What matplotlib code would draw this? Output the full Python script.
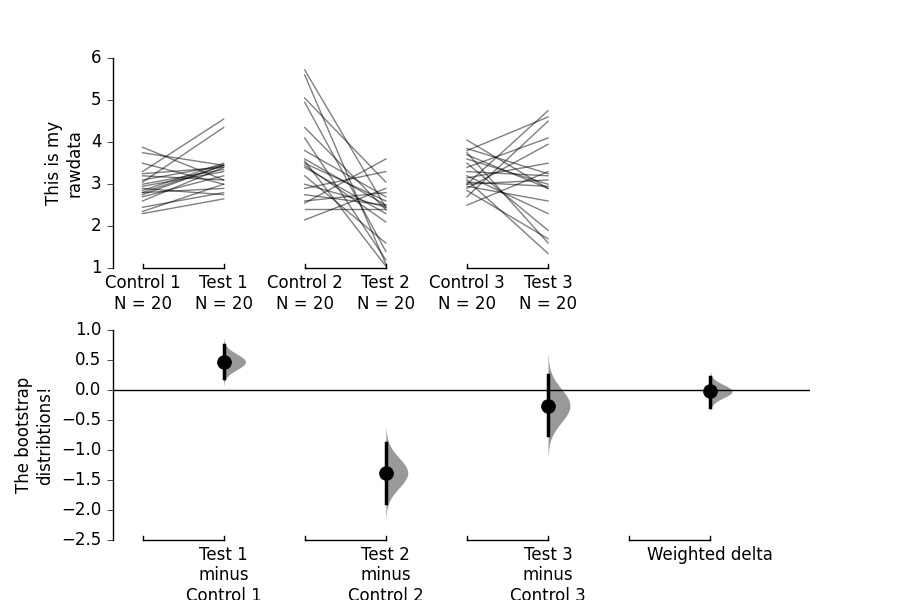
import numpy as np
import matplotlib.pyplot as plt

control1 = [2.3, 2.35, 2.45, 2.6, 2.7, 2.75, 2.8, 2.8, 2.85, 2.9, 2.95, 3.0, 3.05, 3.1, 3.2, 3.25, 3.3, 3.5, 3.75, 3.88]
test1 = [2.65, 3.0, 2.8, 3.4, 3.2, 3.45, 3.45, 2.9, 3.5, 2.75, 3.3, 3.35, 4.35, 3.45, 3.1, 3.4, 4.55, 3.0, 3.45, 3.1]
control2 = [2.15, 2.4, 2.55, 2.6, 2.75, 2.9, 3.0, 3.2, 3.4, 3.45, 3.5, 3.55, 3.6, 3.8, 4.1, 4.35, 4.95, 5.05, 5.6, 5.72]
test2 = [2.9, 2.4, 3.6, 2.8, 2.5, 3.3, 2.45, 1.6, 2.3, 2.1, 2.6, 1.05, 2.5, 2.7, 1.2, 2.4, 1.4, 3.05, 1.1, 2.45]
control3 = [2.5, 2.7, 2.85, 2.9, 2.95, 3.0, 3.0, 3.05, 3.1, 3.15, 3.2, 3.3, 3.4, 3.5, 3.6, 3.7, 3.75, 3.8, 3.85, 4.05]
test3 = [3.3, 4.5, 1.7, 3.95, 2.6, 3.1, 4.75, 2.95, 1.35, 3.5, 2.3, 3.2, 4.1, 1.9, 3.0, 2.9, 1.6, 4.6, 3.25, 2.9]

raw_labels = ['Control 1\nN = 20', 'Test 1\nN = 20', 'Control 2\nN = 20',
              'Test 2\nN = 20', 'Control 3\nN = 20', 'Test 3\nN = 20']
delta_labels = ['Test 1\nminus\nControl 1', 'Test 2\nminus\nControl 2',
                'Test 3\nminus\nControl 3', 'Weighted delta']
delta_mean = [0.47, -1.38, -0.26, -0.02]
ci_low = [0.2, -1.88, -0.75, -0.28]
ci_high = [0.75, -0.88, 0.25, 0.22]
violin_sd = [0.13, 0.25, 0.28, 0.11]

plt.style.use('classic')
fig = plt.figure(figsize=(9, 6), dpi=100, facecolor='w')
ax1 = fig.add_axes([0.125, 0.553, 0.775, 0.35])
ax2 = fig.add_axes([0.125, 0.1, 0.775, 0.35])
xlim = (-0.37, 8.23)

pairs = [(control1, test1), (control2, test2), (control3, test3)]
for i, (c, t) in enumerate(pairs):
    for a, b in zip(c, t):
        ax1.plot([2 * i, 2 * i + 1], [a, b], color='black', alpha=0.5, lw=1)
ax1.set_xlim(xlim)
ax1.set_ylim(1, 6)
ax1.set_xticks(range(6))
ax1.set_xticklabels(raw_labels, fontsize=12)
ax1.set_ylabel('This is my\nrawdata', fontsize=12)
for s in ['top', 'right', 'bottom']:
    ax1.spines[s].set_visible(False)
ax1.tick_params(axis='x', length=0, pad=4)
ax1.tick_params(axis='y', direction='out', right=False, labelsize=12)
for i in range(3):
    ax1.plot([2 * i, 2 * i + 1], [1, 1], color='black', lw=1, clip_on=False)
    for x in (2 * i, 2 * i + 1):
        ax1.plot([x, x], [1, 1.1], color='black', lw=1, clip_on=False)

for k in range(4):
    x0 = 2 * k + 1
    m, sd = delta_mean[k], violin_sd[k]
    yy = np.linspace(m - 3 * sd, m + 3 * sd, 200)
    w = 0.27 * np.exp(-0.5 * ((yy - m) / sd) ** 2)
    ax2.fill_betweenx(yy, x0, x0 + w, color='gray', alpha=0.8, lw=0)
    ax2.plot([x0, x0], [ci_low[k], ci_high[k]], color='black', lw=2.5)
    ax2.plot(x0, m, 'o', color='black', ms=10)
ax2.axhline(0, color='black', lw=1)
ax2.set_xlim(xlim)
ax2.set_ylim(-2.5, 1.0)
ax2.set_xticks([1, 3, 5, 7])
ax2.set_xticklabels(delta_labels, fontsize=12, va='top')
ax2.set_ylabel('The bootstrap\ndistribtions!', fontsize=12)
for s in ['top', 'right', 'bottom']:
    ax2.spines[s].set_visible(False)
ax2.tick_params(axis='x', length=0, pad=4)
ax2.tick_params(axis='y', direction='out', right=False, labelsize=12)
for k in range(4):
    ax2.plot([2 * k, 2 * k + 1], [-2.5, -2.5], color='black', lw=1, clip_on=False)
    for x in (2 * k, 2 * k + 1):
        ax2.plot([x, x], [-2.5, -2.43], color='black', lw=1, clip_on=False)

fig.savefig('out.png', dpi=100)
